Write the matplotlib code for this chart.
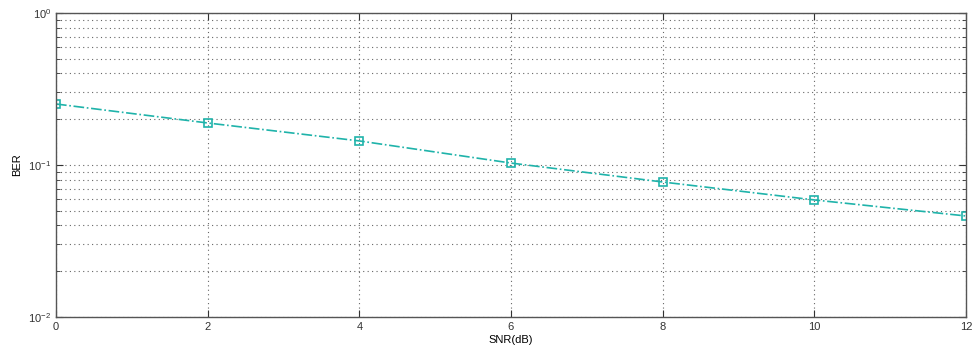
import matplotlib.pyplot as plt
from matplotlib.ticker import LogLocator, NullFormatter

snr_db = [0, 2, 4, 6, 8, 10, 12]
ber = [0.252, 0.189, 0.144, 0.103, 0.0773, 0.0589, 0.0462]
x_ticks = [0, 2, 4, 6, 8, 10, 12]

plt.rcParams['font.family'] = ['Liberation Sans', 'DejaVu Sans']
plt.rcParams['mathtext.fontset'] = 'custom'
plt.rcParams['mathtext.rm'] = 'Liberation Sans'

fig = plt.figure(figsize=(9.74, 3.46), dpi=100)
ax = fig.add_axes([56 / 974, 1 - 317 / 346, 910 / 974, 304 / 346])

ax.semilogy(snr_db, ber, color='#1fb3aa', linestyle='-.', linewidth=1.2,
            marker='s', markersize=6, markerfacecolor='none', markeredgewidth=1.2)

ax.set_xlim(0, 12)
ax.set_ylim(1e-2, 1e0)
ax.set_xticks(x_ticks)
ax.yaxis.set_major_locator(LogLocator(base=10))
ax.yaxis.set_minor_locator(LogLocator(base=10, subs=range(2, 10)))
ax.yaxis.set_minor_formatter(NullFormatter())

grid_style = dict(linestyle=(0, (1, 3)), color='#666666', linewidth=0.8)
ax.grid(True, which='major', axis='both', **grid_style)
ax.grid(True, which='minor', axis='y', **grid_style)

ax.tick_params(which='both', direction='in', labelsize=8, colors='#333333',
               top=True, right=True)
ax.tick_params(which='major', length=5)
ax.tick_params(which='minor', length=3)
for s in ax.spines.values():
    s.set_color('#555555')
    s.set_linewidth(1.0)

ax.set_xlabel('SNR(dB)', fontsize=8, labelpad=2)
ax.set_ylabel('BER', fontsize=8, labelpad=4)

fig.savefig('out.png', dpi=100)
